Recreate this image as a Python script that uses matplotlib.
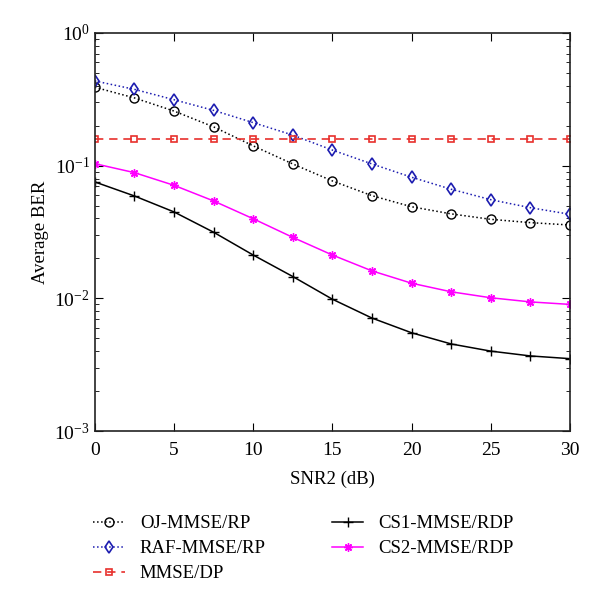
import numpy as np
import matplotlib
matplotlib.use("Agg")
import matplotlib.pyplot as plt
from matplotlib.ticker import LogLocator, NullFormatter

plt.rcParams['font.family'] = ['Liberation Serif', 'DejaVu Serif']
plt.rcParams['mathtext.fontset'] = 'stix'

snr = np.arange(0, 31, 2.5)
oj = [0.39, 0.324, 0.258, 0.196, 0.141, 0.103, 0.0767, 0.0594, 0.049, 0.0433, 0.0394, 0.0372, 0.0357]
raf = [0.435, 0.376, 0.314, 0.261, 0.211, 0.170, 0.131, 0.103, 0.0818, 0.0664, 0.0554, 0.0482, 0.043]
dp = [0.16] * 13
cs1 = [0.0754, 0.0591, 0.0448, 0.0315, 0.0212, 0.0146, 0.00985, 0.0071, 0.0055, 0.00453, 0.0040, 0.00368, 0.00351]
cs2 = [0.1035, 0.0886, 0.0711, 0.0542, 0.0398, 0.0288, 0.0212, 0.0161, 0.013, 0.0112, 0.0101, 0.0094, 0.0090]

fig = plt.figure(figsize=(6, 6.04), dpi=100)
ax = fig.add_axes([0.158, 0.2864, 0.792, 0.659])

ax.plot(snr, oj, ':', color='black', marker='o', mfc='none', ms=6.5, lw=1.1, label='OJ-MMSE/RP')
ax.plot(snr, raf, ':', color='#1c1cb0', marker='d', mfc='none', ms=6.5, mew=1.2, lw=1.1, label='RAF-MMSE/RP')
ax.plot(snr, dp, '--', color='#e8302c', marker='s', mfc='none', ms=5, mew=1.2, lw=1.2, label='MMSE/DP', dashes=(5, 3.5))
ax.plot(snr, cs1, '-', color='black', marker='+', ms=7, lw=1.1, label='CS1-MMSE/RDP')
ax.plot(snr, cs2, '-', color='#ff00ff', marker=(8, 2, 0), ms=6, lw=1.1, label='CS2-MMSE/RDP')

ax.set_yscale('log')
ax.set_xlim(0, 30)
ax.set_ylim(1e-3, 1)
ax.set_xticks(np.arange(0, 31, 5))
ax.yaxis.set_minor_locator(LogLocator(base=10, subs=np.arange(2, 10)))
ax.yaxis.set_minor_formatter(NullFormatter())
ax.tick_params(which='both', direction='in', top=True, right=True, labelsize=14)
ax.tick_params(which='major', length=6)
ax.tick_params(which='minor', length=3)
ax.tick_params(axis='x', pad=8)
for s in ax.spines.values():
    s.set_linewidth(1.2)
    s.set_color('#222222')

ax.set_xlabel('SNR2 (dB)', fontsize=13.5, labelpad=8)
ax.set_ylabel('Average BER', fontsize=13.5)

leg = fig.legend(loc='upper left', ncol=2, frameon=False, fontsize=13.5,
                 columnspacing=3.5, handlelength=1.7, labelspacing=0.42)
leg.set_bbox_to_anchor((0.127, 0.175), transform=fig.transFigure)

fig.savefig('out.png', dpi=100)
